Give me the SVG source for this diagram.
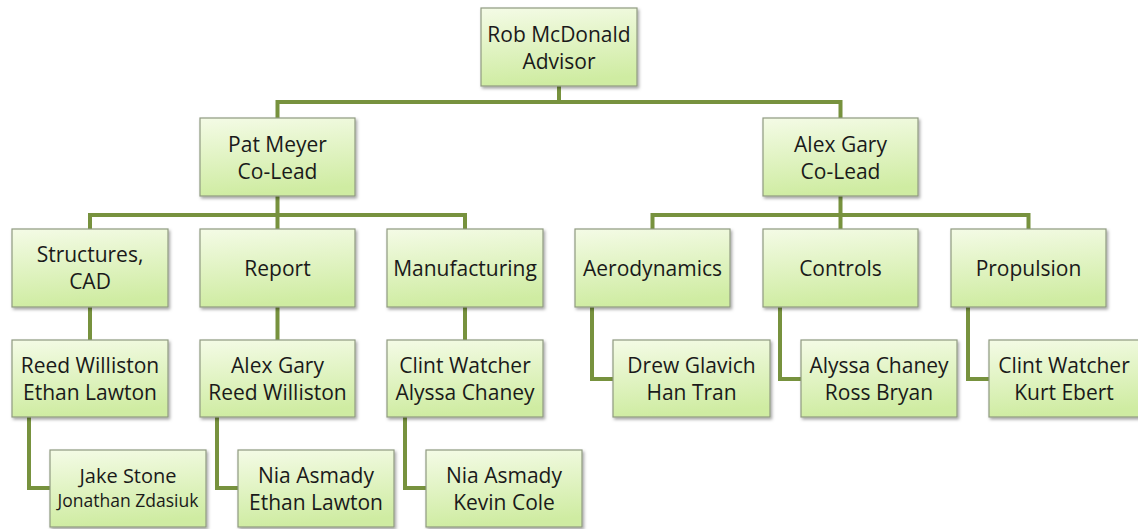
<svg xmlns="http://www.w3.org/2000/svg" width="1138" height="529" viewBox="0 0 1138 529">
<style>
.box{fill:url(#g);stroke:#8f9a80;stroke-width:1.2;filter:url(#sh)}
.t{font-family:"Open Sans","Liberation Sans",sans-serif;font-size:21px;font-weight:500;fill:#1a1a1a;text-anchor:middle}
.s{font-size:17.5px}
.c{fill:none;stroke:#77923e;stroke-width:4;stroke-linejoin:miter}
</style>
<defs>
<linearGradient id="g" x1="0" y1="0" x2="0.15" y2="1">
<stop offset="0" stop-color="#f4fbe6"/>
<stop offset="1" stop-color="#cfeca2"/>
</linearGradient>
<filter id="sh" x="-10%" y="-10%" width="125%" height="130%">
<feDropShadow dx="1.5" dy="2" stdDeviation="1.5" flood-color="#000" flood-opacity="0.35"/>
</filter>
</defs>
<rect width="1138" height="529" fill="#fff"/>
<g id="connectors">
<path class="c" d="M559 86V102M277.5 102H840.5M277.5 100V118M840.5 100V118"/>
<path class="c" d="M277.5 196V215M90 215H465M90 213V229M465 213V229M277.5 213V229"/>
<path class="c" d="M840.5 196V215M652.5 215H1028.5M652.5 213V229M1028.5 213V229M840.5 213V229"/>
<path class="c" d="M90 307V340M277.5 307V340M465 307V340"/>
<path class="c" d="M29 417V488H50M217 417V488H238M405 417V488H426"/>
<path class="c" d="M592 307V379H613M780 307V379H801M968 307V379H989"/>
</g>
<g id="rob"><rect class="box" x="481" y="8" width="156" height="78"/><text class="t" x="559" y="41.5">Rob McDonald</text><text class="t" x="559" y="68.5">Advisor</text></g>
<g id="pat"><rect class="box" x="200" y="118" width="155" height="78"/><text class="t" x="277.5" y="151.5">Pat Meyer</text><text class="t" x="277.5" y="178.5">Co-Lead</text></g>
<g id="alex"><rect class="box" x="763" y="118" width="155" height="78"/><text class="t" x="840.5" y="151.5">Alex Gary</text><text class="t" x="840.5" y="178.5">Co-Lead</text></g>
<g id="structures"><rect class="box" x="12" y="229" width="156" height="78"/><text class="t" x="90" y="262">Structures,</text><text class="t" x="90" y="289">CAD</text></g>
<g id="report"><rect class="box" x="200" y="229" width="155" height="78"/><text class="t" x="277.5" y="275.5">Report</text></g>
<g id="manufacturing"><rect class="box" x="387" y="229" width="156" height="78"/><text class="t" x="465" y="275.5">Manufacturing</text></g>
<g id="aerodynamics"><rect class="box" x="575" y="229" width="155" height="78"/><text class="t" x="652.5" y="275.5">Aerodynamics</text></g>
<g id="controls"><rect class="box" x="763" y="229" width="155" height="78"/><text class="t" x="840.5" y="275.5">Controls</text></g>
<g id="propulsion"><rect class="box" x="951" y="229" width="155" height="78"/><text class="t" x="1028.5" y="275.5">Propulsion</text></g>
<g id="struct-leads"><rect class="box" x="12" y="340" width="156" height="77"/><text class="t" x="90" y="372.5">Reed Williston</text><text class="t" x="90" y="399.5">Ethan Lawton</text></g>
<g id="report-leads"><rect class="box" x="200" y="340" width="155" height="77"/><text class="t" x="277.5" y="372.5">Alex Gary</text><text class="t" x="277.5" y="399.5">Reed Williston</text></g>
<g id="manuf-leads"><rect class="box" x="387" y="340" width="156" height="77"/><text class="t" x="465" y="372.5">Clint Watcher</text><text class="t" x="465" y="399.5">Alyssa Chaney</text></g>
<g id="aero-members"><rect class="box" x="613" y="340" width="157" height="77"/><text class="t" x="691.5" y="372.5">Drew Glavich</text><text class="t" x="691.5" y="399.5">Han Tran</text></g>
<g id="controls-members"><rect class="box" x="801" y="340" width="156" height="77"/><text class="t" x="879" y="372.5">Alyssa Chaney</text><text class="t" x="879" y="399.5">Ross Bryan</text></g>
<g id="propulsion-members"><rect class="box" x="989" y="340" width="156" height="77"/><text class="t" x="1064" y="372.5">Clint Watcher</text><text class="t" x="1064" y="399.5">Kurt Ebert</text></g>
<g id="struct-members"><rect class="box" x="50" y="450" width="156" height="77"/><text class="t" x="128" y="483" style="font-size:20px">Jake Stone</text><text class="t s" x="128" y="507">Jonathan Zdasiuk</text></g>
<g id="report-members"><rect class="box" x="238" y="450" width="156" height="77"/><text class="t" x="316" y="483">Nia Asmady</text><text class="t" x="316" y="510">Ethan Lawton</text></g>
<g id="manuf-members"><rect class="box" x="426" y="450" width="156" height="77"/><text class="t" x="504" y="483">Nia Asmady</text><text class="t" x="504" y="510">Kevin Cole</text></g>
</svg>
